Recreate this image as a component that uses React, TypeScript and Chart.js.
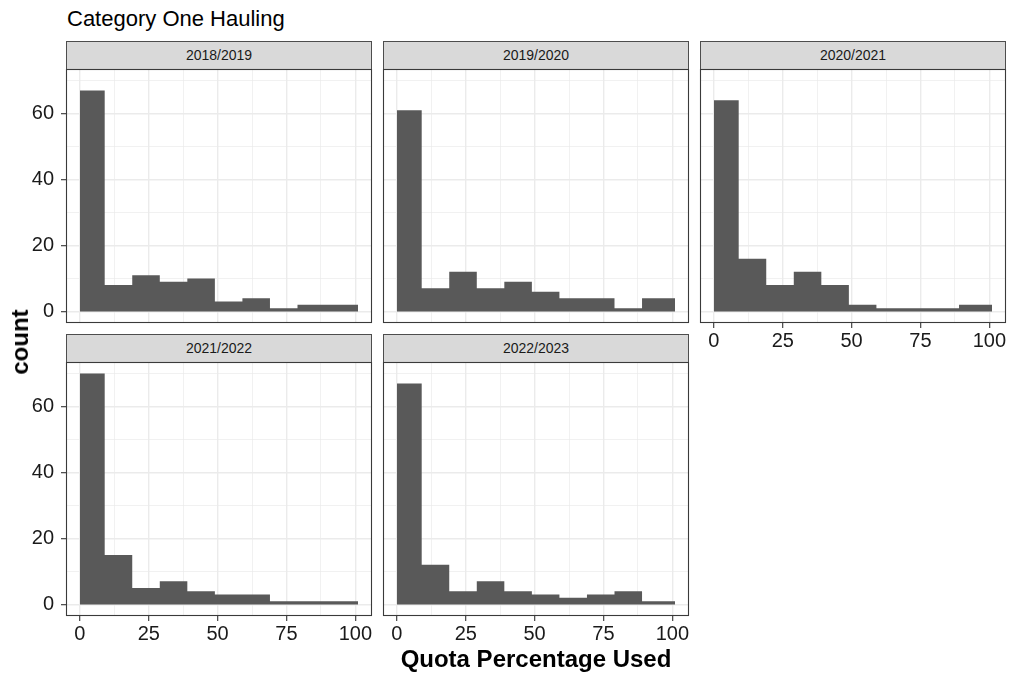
import React, { useEffect, useRef } from "react";
import { Chart, registerables } from "chart.js";

Chart.register(...registerables);

// ---------- data ----------
const chartTitle = "Category One Hauling";
const xAxisTitle = "Quota Percentage Used";
const yAxisTitle = "count";
const seasons = ["2018/2019", "2019/2020", "2020/2021", "2021/2022", "2022/2023"];
const binEdges = [0, 9, 19, 29, 39, 49, 59, 69, 79, 89, 101];
const counts1819 = [67, 8, 11, 9, 10, 3, 4, 1, 2, 2];
const counts1920 = [61, 7, 12, 7, 9, 6, 4, 4, 1, 4];
const counts2021 = [64, 16, 8, 12, 8, 2, 1, 1, 1, 2];
const counts2122 = [70, 15, 5, 7, 4, 3, 3, 1, 1, 1];
const counts2223 = [67, 12, 4, 7, 4, 3, 2, 3, 4, 1];
const seasonCounts = [counts1819, counts1920, counts2021, counts2122, counts2223];
const xMajorTicks = [0, 25, 50, 75, 100];
const xMinorTicks = [12.5, 37.5, 62.5, 87.5];
const yMajorTicks = [0, 20, 40, 60];
const yMinorTicks = [10, 30, 50, 70];
const xRange = [-5.05, 106.05];
const yRange = [-3.5, 73.5];

// ---------- layout ----------
const W = 1011;
const H = 677;
const PW = 306;
const PH = 254;
const STRIP_H = 28;
const Y_AXIS_W = 66;
const X_AXIS_H = 40;
const FONT = "'Liberation Sans', Arial, Helvetica, sans-serif";

const panels = [
  { x: 66, y: 69, showX: false, showY: true },
  { x: 383, y: 69, showX: false, showY: false },
  { x: 700, y: 69, showX: true, showY: false },
  { x: 66, y: 362, showX: true, showY: true },
  { x: 383, y: 362, showX: true, showY: false },
];

const borderPlugin = {
  id: "panelBorder",
  afterDraw(chart: any) {
    const { ctx, chartArea } = chart;
    ctx.save();
    ctx.strokeStyle = "#3a3a3a";
    ctx.lineWidth = 1.1;
    ctx.strokeRect(
      Math.round(chartArea.left) + 0.5,
      Math.round(chartArea.top) + 0.5,
      Math.round(chartArea.right - chartArea.left) - 1,
      Math.round(chartArea.bottom - chartArea.top) - 1
    );
    ctx.restore();
  },
};

function Panel({ idx }: { idx: number }) {
  const ref = useRef<HTMLCanvasElement>(null);
  useEffect(() => {
    const p = panels[idx];
    const counts = seasonCounts[idx];
    const pts = binEdges.map((e, i) => ({ x: e, y: counts[Math.min(i, counts.length - 1)] }));
    const xTicksAll = [...xMajorTicks, ...xMinorTicks].sort((a, b) => a - b);
    const yTicksAll = [...yMajorTicks, ...yMinorTicks].sort((a, b) => a - b);
    const chart = new Chart(ref.current as HTMLCanvasElement, {
      type: "line",
      data: {
        datasets: [
          {
            data: pts,
            stepped: "before",
            fill: "origin",
            backgroundColor: "#595959",
            borderWidth: 0,
            pointRadius: 0,
          },
        ],
      },
      plugins: [borderPlugin],
      options: {
        animation: false,
        responsive: false,
        devicePixelRatio: 1,
        events: [],
        layout: {
          padding: {
            left: p.showY ? p.x - Y_AXIS_W : p.x,
            top: p.y,
            right: W - (p.x + PW),
            bottom: p.showX ? H - (p.y + PH) - X_AXIS_H : H - (p.y + PH),
          },
        },
        plugins: { legend: { display: false }, tooltip: { enabled: false }, title: { display: false } },
        scales: {
          x: {
            type: "linear",
            min: xRange[0],
            max: xRange[1],
            afterBuildTicks: (s: any) => {
              s.ticks = xTicksAll.map((v) => ({ value: v }));
            },
            afterFit: (s: any) => {
              s.height = p.showX ? X_AXIS_H : 0;
            },
            border: { display: false },
            grid: {
              color: "#ebebeb",
              lineWidth: (c: any) => (xMajorTicks.includes(c.tick?.value) ? 1.4 : 0.7),
              drawTicks: p.showX,
              tickLength: 5,
              tickWidth: 1.1,
              tickColor: (c: any) => (xMajorTicks.includes(c.tick?.value) ? "#333333" : "rgba(0,0,0,0)"),
            },
            ticks: {
              display: p.showX,
              autoSkip: false,
              maxRotation: 0,
              padding: 1,
              color: "#1a1a1a",
              font: { family: FONT, size: 20 },
              callback: (v: any) => (xMajorTicks.includes(Number(v)) ? String(v) : ""),
            },
          },
          y: {
            type: "linear",
            min: yRange[0],
            max: yRange[1],
            afterBuildTicks: (s: any) => {
              s.ticks = yTicksAll.map((v) => ({ value: v }));
            },
            afterFit: (s: any) => {
              s.width = p.showY ? Y_AXIS_W : 0;
            },
            border: { display: false },
            grid: {
              color: "#ebebeb",
              lineWidth: (c: any) => (yMajorTicks.includes(c.tick?.value) ? 1.4 : 0.7),
              drawTicks: p.showY,
              tickLength: 5,
              tickWidth: 1.1,
              tickColor: (c: any) => (yMajorTicks.includes(c.tick?.value) ? "#333333" : "rgba(0,0,0,0)"),
            },
            ticks: {
              display: p.showY,
              autoSkip: false,
              padding: 7,
              color: "#1a1a1a",
              font: { family: FONT, size: 20 },
              callback: (v: any) => (yMajorTicks.includes(Number(v)) ? String(v) : ""),
            },
          },
        },
      } as any,
    });
    return () => chart.destroy();
  }, [idx]);
  return (
    <canvas
      ref={ref}
      width={W}
      height={H}
      style={{ position: "absolute", left: 0, top: 0, width: W, height: H }}
    />
  );
}

export default function App() {
  return (
    <div
      style={{
        position: "absolute",
        left: 0,
        top: 0,
        width: W,
        height: H,
        background: "#ffffff",
        overflow: "hidden",
        fontFamily: FONT,
      }}
    >
      <div
        style={{
          position: "absolute",
          left: 67,
          top: 8,
          fontSize: 22,
          lineHeight: "22px",
          color: "#000",
          whiteSpace: "nowrap",
        }}
      >
        {chartTitle}
      </div>
      {panels.map((p, i) => (
        <div
          key={"s" + i}
          style={{
            position: "absolute",
            left: p.x,
            top: p.y - STRIP_H,
            width: PW,
            height: STRIP_H + 1,
            boxSizing: "border-box",
            background: "#d9d9d9",
            border: "1px solid #4d4d4d",
            color: "#1a1a1a",
            fontSize: 14,
            lineHeight: STRIP_H - 1 + "px",
            textAlign: "center",
          }}
        >
          {seasons[i]}
        </div>
      ))}
      {panels.map((_, i) => (
        <Panel key={"p" + i} idx={i} />
      ))}
      <div
        style={{
          position: "absolute",
          left: 536,
          top: 647,
          transform: "translateX(-50%)",
          fontSize: 24,
          lineHeight: "24px",
          fontWeight: "bold",
          color: "#000",
          whiteSpace: "nowrap",
        }}
      >
        {xAxisTitle}
      </div>
      <div
        style={{
          position: "absolute",
          left: 20,
          top: 342,
          transform: "translate(-50%, -50%) rotate(-90deg)",
          fontSize: 24,
          lineHeight: "24px",
          fontWeight: "bold",
          color: "#000",
          whiteSpace: "nowrap",
        }}
      >
        {yAxisTitle}
      </div>
    </div>
  );
}
